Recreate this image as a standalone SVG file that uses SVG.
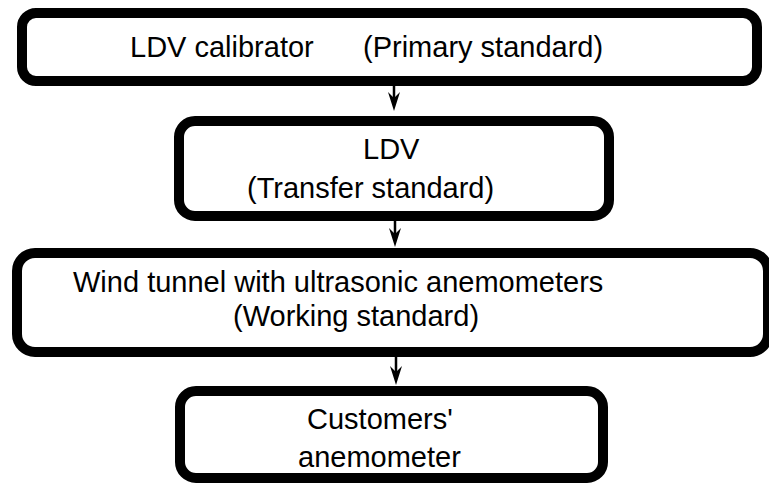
<svg xmlns="http://www.w3.org/2000/svg" width="769" height="484" viewBox="0 0 769 484">
  <style>
    .box { fill: #ffffff; stroke: #000000; stroke-width: 10; }
    .label { font-family: "Liberation Sans", Arial, sans-serif; font-size: 29px; fill: #000000; }
    .link { stroke: #000000; stroke-width: 2.5; fill: none; }
    .head { fill: #000000; stroke: none; }
  </style>
  <rect width="769" height="484" fill="#ffffff"/>

  <g id="node-ldv-calibrator">
    <rect class="box" x="22" y="13" width="735" height="68" rx="14" ry="14"/>
    <text class="label" x="130" y="57">LDV calibrator</text>
    <text class="label" x="363" y="57">(Primary standard)</text>
  </g>

  <g id="node-ldv">
    <rect class="box" x="179" y="121" width="430" height="95" rx="16" ry="16"/>
    <text class="label" x="363" y="159">LDV</text>
    <text class="label" x="247" y="198">(Transfer standard)</text>
  </g>

  <g id="node-wind-tunnel">
    <rect class="box" x="17" y="253" width="751" height="99" rx="18" ry="18"/>
    <text class="label" x="73" y="292">Wind tunnel with ultrasonic anemometers</text>
    <text class="label" x="233" y="326">(Working standard)</text>
  </g>

  <g id="node-customer">
    <rect class="box" x="180" y="391" width="423" height="87" rx="16" ry="16"/>
    <text class="label" x="307" y="429">Customers'</text>
    <text class="label" x="298" y="467">anemometer</text>
  </g>

  <g id="connectors">
    <line class="link" x1="394" y1="86" x2="394" y2="100"/>
    <path class="head" d="M394,111 L388,92 L394,98 L400,92 Z"/>
    <line class="link" x1="395" y1="221" x2="395" y2="236"/>
    <path class="head" d="M395,247 L389,228 L395,234 L401,228 Z"/>
    <line class="link" x1="396" y1="357" x2="396" y2="374"/>
    <path class="head" d="M396,385 L390,366 L396,372 L402,366 Z"/>
  </g>
</svg>
